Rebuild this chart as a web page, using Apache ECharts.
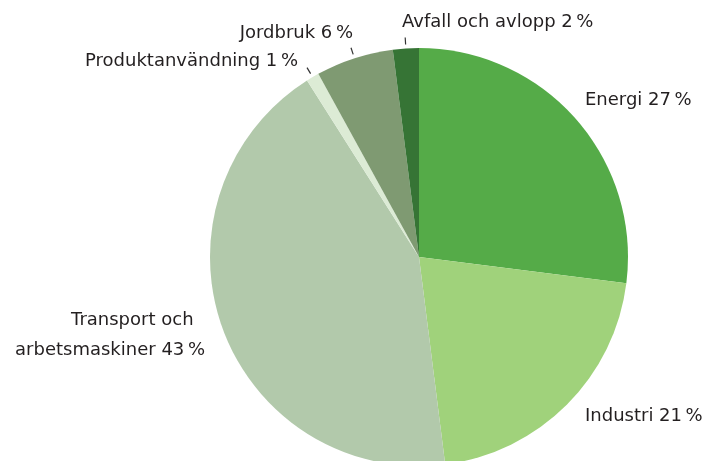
<!DOCTYPE html>
<html>
<head>
<meta charset="utf-8">
<script src="https://cdn.jsdelivr.net/npm/echarts@6/dist/echarts.min.js"></script>
<style>
  html, body { margin: 0; padding: 0; background: #fff; }
  #chart { width: 704px; height: 461px; }
</style>
</head>
<body>
<div id="chart"></div>
<script>
// Data (clockwise from 12 o'clock)
let kategorier = ['Energi', 'Industri', 'Transport och  \narbetsmaskiner', 'Produktanvändning', 'Jordbruk', 'Avfall och avlopp'];
let andelar = [27, 21, 43, 1, 6, 2];
let farger = ['#55ab48', '#a0d27b', '#b2c9ab', '#dcebd5', '#7f9a72', '#367435'];
let medStreck = [false, false, false, true, true, true];

// Label anchors (x, y, align) per category
let etikettPos = [
    [585, 100, 'left'],
    [585, 416, 'left'],
    [205, 335, 'right'],
    [298, 61, 'right'],
    [353, 33, 'right'],
    [402, 22, 'left']
];

let chart = echarts.init(document.getElementById('chart'));

let data = kategorier.map((k, i) => ({
    name: k,
    value: andelar[i],
    itemStyle: { color: farger[i] }
}));

let option = {
    animation: false,
    series: [{
        name: 'andel',
        type: 'pie',
        center: [419, 257],
        radius: 209,
        startAngle: 90,
        clockwise: true,
        data: data,
        label: {
            show: true,
            fontFamily: 'DejaVu Sans',
            fontSize: 18,
            color: '#231f20',
            lineHeight: 30,
            overflow: 'none',
            formatter: (p) => p.name + ' ' + p.value + '\u2009%'
        },
        labelLine: { show: false },
        labelLayout: (p) => {
            let pos = etikettPos[p.dataIndex];
            return { x: pos[0], y: pos[1], align: pos[2], verticalAlign: 'middle', width: 400 };
        },
        emphasis: { disabled: true }
    }, {
        // invisible ring only used for the short tick marks
        name: 'streck',
        type: 'pie',
        center: [419, 257],
        radius: 213,
        startAngle: 90,
        clockwise: true,
        silent: true,
        data: data.map((d, i) => ({
            name: d.name,
            value: d.value,
            itemStyle: { color: 'rgba(0,0,0,0)' },
            label: { show: medStreck[i] },
            labelLine: { show: medStreck[i] }
        })),
        label: { show: true, position: 'outside', formatter: ' ', fontSize: 1 },
        labelLine: { length: 7, length2: 0, lineStyle: { color: '#333', width: 1.2 } },
        emphasis: { disabled: true }
    }]
};

option && chart.setOption(option);
window.addEventListener('resize', chart.resize);
</script>
</body>
</html>
